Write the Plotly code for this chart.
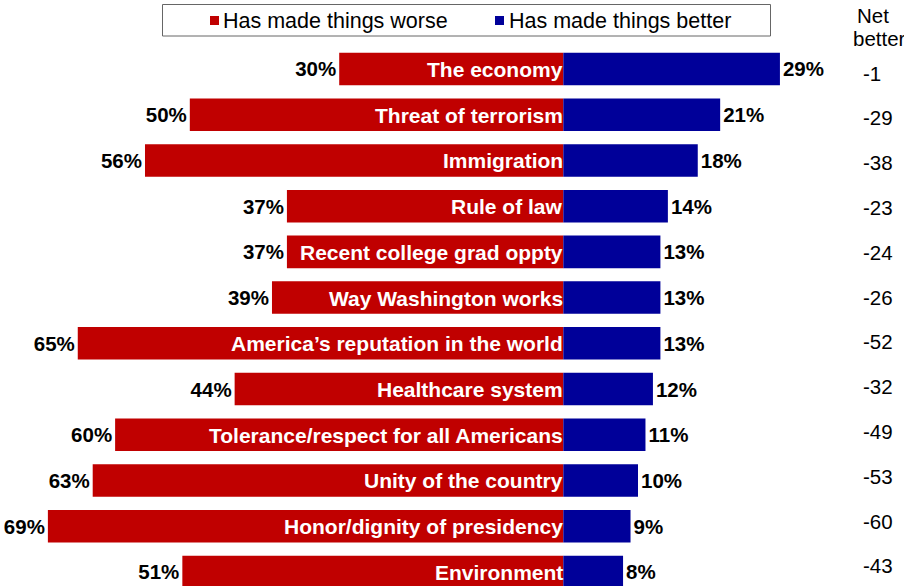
import plotly.graph_objects as go

# Survey results: share saying each area has been made worse / better
categories = [
    "The economy",
    "Threat of terrorism",
    "Immigration",
    "Rule of law",
    "Recent college grad oppty",
    "Way Washington works",
    "America\u2019s reputation in the world",
    "Healthcare system",
    "Tolerance/respect for all Americans",
    "Unity of the country",
    "Honor/dignity of presidency",
    "Environment",
]
worse = [30, 50, 56, 37, 37, 39, 65, 44, 60, 63, 69, 51]
better = [29, 21, 18, 14, 13, 13, 13, 12, 11, 10, 9, 8]
net_better = [b - w for b, w in zip(better, worse)]

RED = "#C00000"
BLUE = "#000099"
FONT = "Arial, 'Liberation Sans', sans-serif"
W, H = 904, 586

rows = list(range(len(categories)))


def px(x):
    return x / W


def py(y):
    return 1 - y / H


fig = go.Figure()

fig.add_trace(go.Bar(
    y=rows, x=[-v for v in worse], orientation="h",
    marker=dict(color=RED, line=dict(width=0)),
    width=0.711,
    text=[f"{v}%" for v in worse], textposition="outside",
    textfont=dict(family=FONT, size=20.5, color="black", weight="bold"),
    constraintext="none", cliponaxis=False,
    name="Has made things worse", showlegend=False, hoverinfo="skip",
))
fig.add_trace(go.Bar(
    y=rows, x=better, orientation="h",
    marker=dict(color=BLUE, line=dict(width=0)),
    width=0.711,
    text=[f"{v}%" for v in better], textposition="outside",
    textfont=dict(family=FONT, size=20.5, color="black", weight="bold"),
    constraintext="none", cliponaxis=False,
    name="Has made things better", showlegend=False, hoverinfo="skip",
))

annotations = []
# Category names sit inside the red bars, right-aligned at zero
for i, cat in zip(rows, categories):
    annotations.append(dict(
        x=0, y=i, xref="x", yref="y", text=cat, showarrow=False,
        xanchor="right", yanchor="middle", xshift=1.5, yshift=-0.5,
        font=dict(family=FONT, size=21, color="white", weight="bold"),
    ))

# Net better column on the right
for i, n in zip(rows, net_better):
    annotations.append(dict(
        x=px(861), y=i * 0.98 + 0.09, xref="paper", yref="y",
        text=f"{n}", showarrow=False, xanchor="left", yanchor="middle",
        font=dict(family=FONT, size=20.5, color="black"),
    ))
annotations.append(dict(
    x=px(873), y=py(16), xref="paper", yref="paper", text="Net",
    showarrow=False, xanchor="center", yanchor="middle",
    font=dict(family=FONT, size=20.5, color="black"),
))
annotations.append(dict(
    x=px(851), y=py(39), xref="paper", yref="paper", text="better",
    showarrow=False, xanchor="left", yanchor="middle",
    font=dict(family=FONT, size=20.5, color="black"),
))

# Legend box
legend_items = [("Has made things worse", RED, 210, 221), ("Has made things better", BLUE, 495, 507)]
shapes = [dict(
    type="rect", xref="paper", yref="paper",
    x0=px(162.5), x1=px(770.5), y0=py(36), y1=py(4.5),
    line=dict(color="#666666", width=1), fillcolor="white",
)]
for label, color, sx, tx in legend_items:
    shapes.append(dict(
        type="rect", xref="paper", yref="paper",
        x0=px(sx), x1=px(sx + 9), y0=py(25), y1=py(16),
        line=dict(width=0), fillcolor=color,
    ))
    annotations.append(dict(
        x=px(tx), y=py(21), xref="paper", yref="paper", text=label,
        showarrow=False, xanchor="left", yanchor="middle",
        font=dict(family=FONT, size=21.5, color="black"),
    ))

fig.update_layout(
    width=W, height=H,
    margin=dict(l=0, r=0, t=0, b=0),
    paper_bgcolor="white", plot_bgcolor="white",
    barmode="overlay",
    xaxis=dict(range=[-75.41, 45.61], visible=False, fixedrange=True),
    yaxis=dict(range=[11.308, -1.509], visible=False, fixedrange=True),
    annotations=annotations, shapes=shapes,
    showlegend=False,
)

fig.write_html("out.html")
